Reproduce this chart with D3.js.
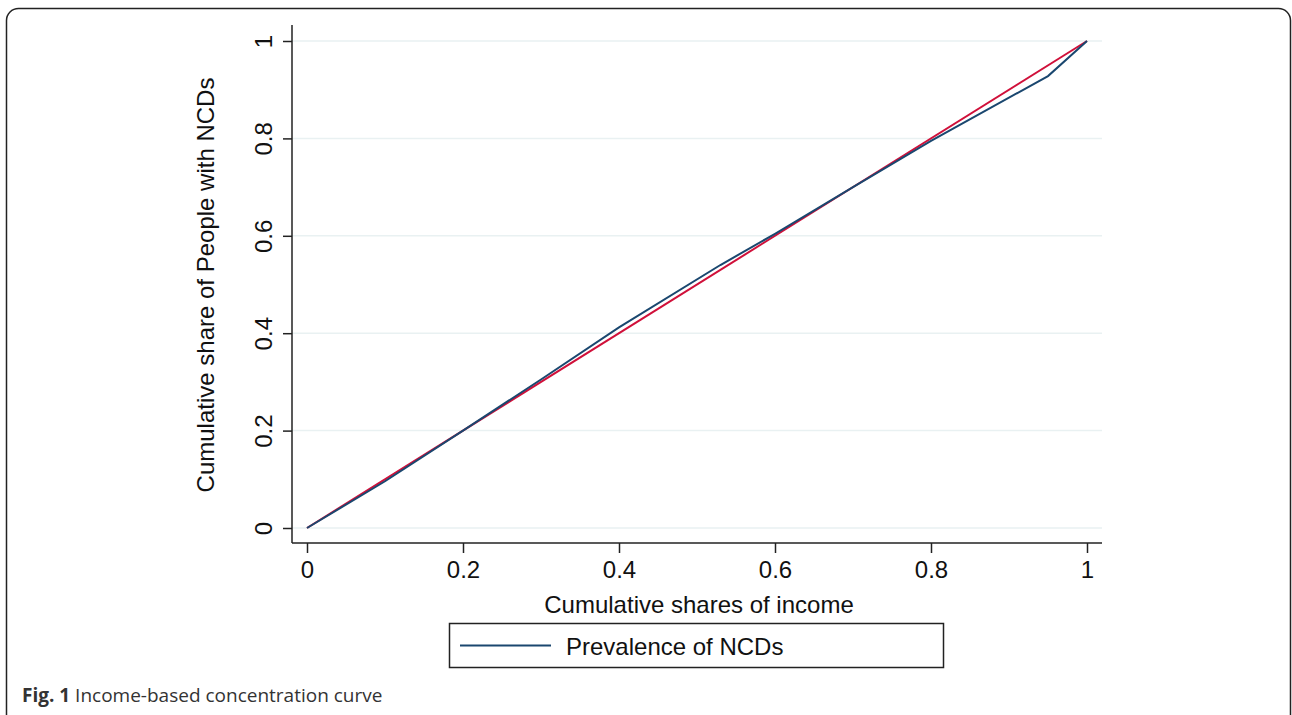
<!DOCTYPE html>
<html>
<head>
<meta charset="utf-8">
<script src="https://cdn.jsdelivr.net/npm/d3@7"></script>
<style>
  html, body { margin: 0; padding: 0; background: #fff; }
  svg { display: block; }
</style>
</head>
<body>
<svg id="chart" width="1292" height="715"></svg>
<script>
// cumulative shares of income (x) and of people with NCDs (y)
var incomeShare = [0, 0.1, 0.2, 0.3, 0.4, 0.53, 0.6, 0.7, 0.8, 0.95, 1];
var ncdShare = [0, 0.096, 0.2, 0.305, 0.412, 0.54, 0.604, 0.7, 0.795, 0.928, 1];
var equalityLine = [0, 1];
var tickValues = [0, 0.2, 0.4, 0.6, 0.8, 1];
var tickLabels = ['0', '0.2', '0.4', '0.6', '0.8', '1'];

var svg = d3.select('#chart');
var font = '"Liberation Sans", Arial, sans-serif';

// outer panel border
svg.append('rect')
  .attr('x', 6.5).attr('y', 8.5)
  .attr('width', 1284).attr('height', 720)
  .attr('rx', 12).attr('ry', 12)
  .attr('fill', 'none')
  .attr('stroke', '#222')
  .attr('stroke-width', 1.5);

var x = d3.scaleLinear().domain([0, 1]).range([307, 1087]);
var y = d3.scaleLinear().domain([0, 1]).range([528, 41]);

var axisLeft = 292, axisBottom = 543, axisRight = 1102, axisTop = 25;

// gridlines
svg.append('g').selectAll('line')
  .data(tickValues)
  .enter().append('line')
  .attr('x1', axisLeft).attr('x2', axisRight)
  .attr('y1', function(d) { return y(d); })
  .attr('y2', function(d) { return y(d); })
  .attr('stroke', '#e9f1f2')
  .attr('stroke-width', 1.5);

// y axis
var yAxis = svg.append('g')
  .attr('transform', 'translate(' + axisLeft + ',0)')
  .call(d3.axisLeft(y).tickValues(tickValues).tickSize(9).tickPadding(14)
    .tickFormat(function(d, i) { return tickLabels[i]; }));
yAxis.select('.domain').remove();
yAxis.append('line')
  .attr('x1', 0).attr('x2', 0)
  .attr('y1', axisTop).attr('y2', axisBottom)
  .attr('stroke', '#222').attr('stroke-width', 1.5);
yAxis.selectAll('.tick line').attr('stroke', '#222').attr('stroke-width', 1.5);
yAxis.selectAll('.tick text')
  .attr('font-family', font).attr('font-size', 24).attr('fill', '#111')
  .attr('text-anchor', 'middle')
  .attr('x', 0).attr('dy', 0)
  .attr('transform', 'translate(-29,0) rotate(-90)')
  .attr('dominant-baseline', 'central');

// x axis
var xAxis = svg.append('g')
  .attr('transform', 'translate(0,' + axisBottom + ')')
  .call(d3.axisBottom(x).tickValues(tickValues).tickSize(10).tickPadding(8)
    .tickFormat(function(d, i) { return tickLabels[i]; }));
xAxis.select('.domain').remove();
xAxis.append('line')
  .attr('x1', axisLeft).attr('x2', axisRight)
  .attr('y1', 0).attr('y2', 0)
  .attr('stroke', '#222').attr('stroke-width', 1.5);
xAxis.selectAll('.tick line').attr('stroke', '#222').attr('stroke-width', 1.5);
xAxis.selectAll('.tick text')
  .attr('font-family', font).attr('font-size', 24).attr('fill', '#111');

// axis titles
svg.append('text')
  .attr('x', 699).attr('y', 613)
  .attr('text-anchor', 'middle')
  .attr('font-family', font).attr('font-size', 24).attr('fill', '#111')
  .text('Cumulative shares of income');

svg.append('text')
  .attr('transform', 'translate(214,285) rotate(-90)')
  .attr('text-anchor', 'middle')
  .attr('font-family', font).attr('font-size', 24).attr('fill', '#111')
  .text('Cumulative share of People with NCDs');

// lines
var line = d3.line()
  .x(function(d) { return x(d[0]); })
  .y(function(d) { return y(d[1]); });

svg.append('path')
  .datum(d3.zip(equalityLine, equalityLine))
  .attr('d', line)
  .attr('fill', 'none')
  .attr('stroke', '#d0103a')
  .attr('stroke-width', 2);

svg.append('path')
  .datum(d3.zip(incomeShare, ncdShare))
  .attr('d', line)
  .attr('fill', 'none')
  .attr('stroke', '#1a476f')
  .attr('stroke-width', 2);

// legend
var legend = svg.append('g');
legend.append('rect')
  .attr('x', 449.5).attr('y', 623.5)
  .attr('width', 494).attr('height', 44)
  .attr('fill', '#fff')
  .attr('stroke', '#222').attr('stroke-width', 1.5);
legend.append('line')
  .attr('x1', 460).attr('x2', 551)
  .attr('y1', 645.5).attr('y2', 645.5)
  .attr('stroke', '#1a476f').attr('stroke-width', 2);
legend.append('text')
  .attr('x', 566).attr('y', 655)
  .attr('font-family', font).attr('font-size', 24).attr('fill', '#111')
  .text('Prevalence of NCDs');

// caption
var caption = svg.append('text')
  .attr('x', 22).attr('y', 702)
  .attr('font-family', '"Open Sans", sans-serif')
  .attr('font-size', 19).attr('fill', '#333');
caption.append('tspan').attr('font-weight', 'bold').text('Fig. 1');
caption.append('tspan').text(' Income-based concentration curve');
</script>
</body>
</html>
